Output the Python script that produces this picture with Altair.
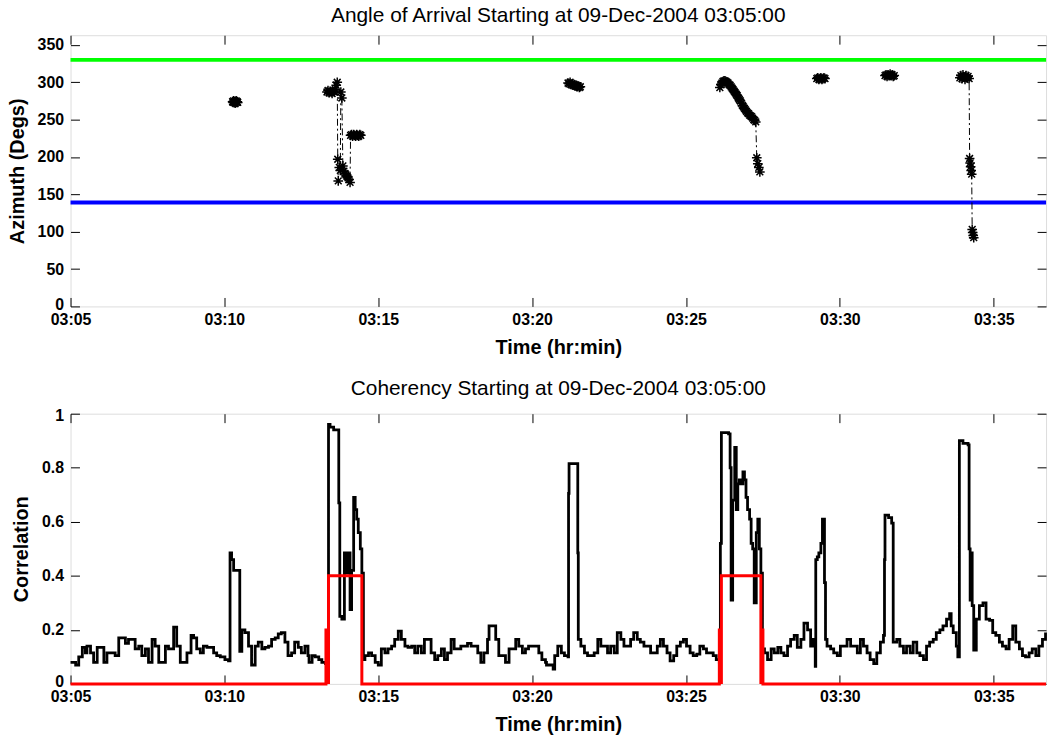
import altair as alt
import pandas as pd

FONT = "Liberation Sans"

# ---------------- axes / ticks ----------------
X_MAX_MIN = 31.7                       # minutes after 03:05:00 shown
X_TICKS_MIN = [0, 5, 10, 15, 20, 25, 30]
AZ_MAX = 363
AZ_TICKS = [0, 50, 100, 150, 200, 250, 300, 350]
COR_TICKS = [0, 0.2, 0.4, 0.6, 0.8, 1]

TITLE_TOP = "Angle of Arrival Starting at 09-Dec-2004 03:05:00"
TITLE_BOTTOM = "Coherency Starting at 09-Dec-2004 03:05:00"

# ---------------- reference azimuth lines ----------------
REF_AZ = [330, 139]
REF_COLOR = ["#00ff00", "#0000ff"]

# ---------------- azimuth detections: (seconds after 03:05:00, degrees) ----------------
CLUSTER_1 = [(316, 274), (317, 273), (318, 275), (319, 273), (320, 274), (321, 272),
             (322, 274), (323, 275), (324, 273), (325, 274), (326, 273)]
CLUSTER_2 = [(500, 287), (502, 289), (504, 286), (506, 288), (508, 287), (510, 285),
             (512, 288), (514, 287), (516, 290), (518, 296), (520, 300), (521, 197),
             (522, 168), (524, 186), (526, 182), (527, 287), (529, 279), (531, 188),
             (533, 181), (535, 178), (537, 176), (539, 174), (541, 172), (543, 170),
             (545, 166), (546, 229), (548, 230), (550, 228), (552, 230), (554, 229),
             (556, 228), (558, 230), (560, 229), (562, 228), (564, 230), (566, 229)]
CLUSTER_3 = [(970, 299), (972, 298), (974, 300), (976, 297), (978, 298), (980, 296),
             (982, 297), (984, 295), (986, 296), (988, 294), (990, 295), (992, 293),
             (994, 294)]
CLUSTER_4 = [(1266, 293), (1268, 297), (1270, 299), (1272, 301), (1274, 302), (1276, 302),
             (1278, 301), (1280, 300), (1282, 299), (1284, 297), (1286, 296), (1288, 294),
             (1290, 292), (1292, 290), (1294, 288), (1296, 286), (1298, 284), (1300, 282),
             (1302, 279), (1304, 277), (1306, 275), (1308, 272), (1310, 269), (1312, 267),
             (1314, 265), (1316, 263), (1318, 261), (1320, 259), (1322, 258), (1324, 256),
             (1326, 255), (1328, 254), (1330, 252), (1332, 250), (1334, 249), (1336, 247),
             (1338, 199), (1340, 191), (1342, 186), (1344, 180)]
CLUSTER_5 = [(1455, 305), (1457, 306), (1459, 304), (1461, 305), (1463, 306), (1465, 304),
             (1467, 305), (1469, 306), (1471, 305)]
CLUSTER_6 = [(1588, 309), (1590, 310), (1592, 308), (1594, 310), (1596, 309), (1598, 311),
             (1600, 309), (1602, 310), (1604, 308), (1606, 309)]
CLUSTER_7 = [(1734, 306), (1736, 309), (1738, 305), (1740, 310), (1742, 307), (1744, 304),
             (1746, 309), (1748, 306), (1750, 308), (1752, 305), (1753, 198), (1754, 192),
             (1755, 187), (1756, 182), (1757, 177), (1758, 103), (1759, 99), (1760, 95),
             (1761, 92)]
CLUSTERS = [CLUSTER_1, CLUSTER_2, CLUSTER_3, CLUSTER_4, CLUSTER_5, CLUSTER_6, CLUSTER_7]

# ---------------- coherency: (seconds after 03:05:00, correlation) ----------------
COH_A = [(0, 0.08), (10, 0.07), (16, 0.10), (23, 0.135), (29, 0.115), (32, 0.14), (39, 0.115),
         (45, 0.08), (52, 0.135), (58, 0.135), (65, 0.08), (71, 0.115), (78, 0.115), (87, 0.105),
         (94, 0.17), (100, 0.17), (107, 0.15), (113, 0.165), (120, 0.165), (126, 0.13),
         (133, 0.14), (139, 0.105), (146, 0.13), (152, 0.08), (159, 0.165), (165, 0.14),
         (172, 0.08), (178, 0.08), (185, 0.14), (191, 0.13), (201, 0.21), (207, 0.14),
         (214, 0.08), (220, 0.08), (227, 0.115), (235, 0.18), (240, 0.17), (246, 0.13),
         (253, 0.115), (259, 0.14), (266, 0.135), (272, 0.135), (279, 0.115), (285, 0.105),
         (292, 0.10), (301, 0.09), (308, 0.085), (311, 0.485), (314, 0.46), (318, 0.42),
         (324, 0.42), (329, 0.42), (330, 0.12), (334, 0.20), (340, 0.19), (347, 0.14),
         (353, 0.07), (360, 0.14), (366, 0.155), (373, 0.13), (379, 0.135), (386, 0.14),
         (392, 0.165), (399, 0.17), (405, 0.185), (411, 0.19), (418, 0.155), (424, 0.105),
         (431, 0.115), (437, 0.155), (444, 0.135), (450, 0.115), (457, 0.14), (463, 0.105)]
COH_B = [(465, 0.08), (471, 0.105), (477, 0.10), (484, 0.09), (490, 0.08), (497, 0.075),
         (502, 0.08), (503, 0.96), (506, 0.95), (513, 0.94), (521, 0.94), (523, 0.67),
         (525, 0.25), (529, 0.24), (534, 0.485), (539, 0.41), (542, 0.485), (545, 0.275),
         (548, 0.42), (552, 0.69), (555, 0.645), (558, 0.61), (561, 0.56), (565, 0.50),
         (568, 0.41), (571, 0.09), (574, 0.105), (581, 0.115), (587, 0.105), (594, 0.08),
         (600, 0.07), (606, 0.13), (613, 0.115), (619, 0.13), (626, 0.14), (632, 0.165),
         (639, 0.195), (645, 0.165), (652, 0.14), (658, 0.135), (665, 0.14), (671, 0.115),
         (677, 0.14), (684, 0.115), (690, 0.165), (697, 0.165), (703, 0.115), (710, 0.09),
         (716, 0.105), (723, 0.13), (729, 0.09), (735, 0.115), (742, 0.165), (748, 0.13),
         (755, 0.13), (761, 0.14), (768, 0.14), (774, 0.15), (781, 0.14), (787, 0.14),
         (794, 0.115), (800, 0.08), (806, 0.115), (813, 0.165), (816, 0.215), (823, 0.215),
         (829, 0.165), (835, 0.105), (842, 0.105), (848, 0.08), (855, 0.13), (861, 0.13),
         (868, 0.165), (874, 0.14), (881, 0.115), (887, 0.13), (893, 0.14), (900, 0.14),
         (906, 0.14), (913, 0.115), (919, 0.09), (926, 0.08)]
COH_C = [(928, 0.07), (934, 0.07), (941, 0.055), (944, 0.105), (950, 0.14), (957, 0.115),
         (963, 0.105), (970, 0.10), (971, 0.705), (972, 0.815), (979, 0.815), (987, 0.815),
         (989, 0.485), (990, 0.165), (995, 0.14), (1002, 0.115), (1008, 0.105), (1015, 0.105),
         (1021, 0.115), (1028, 0.165), (1034, 0.14), (1040, 0.14), (1047, 0.115), (1053, 0.14),
         (1060, 0.115), (1066, 0.19), (1073, 0.165), (1079, 0.14), (1086, 0.14), (1092, 0.165),
         (1098, 0.19), (1105, 0.165), (1111, 0.155), (1118, 0.14), (1124, 0.14), (1131, 0.115),
         (1137, 0.115), (1144, 0.14), (1150, 0.165), (1156, 0.14), (1163, 0.115), (1169, 0.085),
         (1176, 0.105), (1182, 0.14), (1189, 0.155), (1195, 0.165), (1201, 0.14), (1208, 0.115),
         (1214, 0.105), (1221, 0.11), (1227, 0.14), (1234, 0.13), (1240, 0.115), (1247, 0.115),
         (1253, 0.105), (1259, 0.09), (1265, 0.08), (1267, 0.52), (1269, 0.93), (1275, 0.93),
         (1283, 0.925), (1286, 0.80), (1288, 0.31), (1291, 0.68), (1295, 0.875), (1298, 0.645),
         (1301, 0.74), (1304, 0.755), (1307, 0.74), (1311, 0.785), (1314, 0.755), (1317, 0.69),
         (1320, 0.645), (1324, 0.61), (1327, 0.52), (1330, 0.50), (1333, 0.30), (1337, 0.56),
         (1340, 0.61), (1343, 0.50), (1346, 0.41), (1349, 0.13), (1353, 0.115), (1359, 0.09),
         (1366, 0.13), (1372, 0.115), (1379, 0.135), (1385, 0.115), (1391, 0.105), (1398, 0.14),
         (1404, 0.165), (1411, 0.18)]
COH_D = [(1417, 0.135), (1424, 0.165), (1430, 0.225), (1437, 0.20), (1443, 0.14), (1448, 0.165),
         (1452, 0.065), (1453, 0.46), (1456, 0.47), (1459, 0.485), (1463, 0.52), (1466, 0.61),
         (1469, 0.61), (1470, 0.375), (1472, 0.165), (1475, 0.14), (1482, 0.13), (1488, 0.115),
         (1495, 0.105), (1501, 0.14), (1508, 0.14), (1514, 0.165), (1521, 0.14), (1527, 0.14),
         (1534, 0.115), (1540, 0.165), (1546, 0.14), (1553, 0.115), (1559, 0.09), (1566, 0.075),
         (1572, 0.115), (1579, 0.155), (1585, 0.18), (1587, 0.46), (1588, 0.625), (1595, 0.615),
         (1601, 0.595), (1604, 0.155), (1611, 0.165), (1617, 0.14), (1624, 0.115), (1630, 0.14),
         (1637, 0.115), (1643, 0.155), (1650, 0.115), (1656, 0.105), (1663, 0.09), (1669, 0.14),
         (1675, 0.155), (1682, 0.165), (1688, 0.19), (1695, 0.20), (1701, 0.215), (1708, 0.24),
         (1714, 0.26), (1717, 0.215), (1721, 0.19), (1727, 0.14), (1730, 0.10), (1733, 0.90),
         (1740, 0.89), (1750, 0.885), (1752, 0.50), (1754, 0.31), (1756, 0.485), (1758, 0.29),
         (1761, 0.125), (1766, 0.24), (1772, 0.29), (1779, 0.30), (1785, 0.24), (1792, 0.235),
         (1798, 0.19), (1804, 0.18), (1811, 0.155), (1817, 0.14), (1824, 0.13), (1830, 0.165),
         (1837, 0.215), (1843, 0.155), (1850, 0.13), (1856, 0.105), (1862, 0.10), (1869, 0.115),
         (1875, 0.13), (1882, 0.105), (1888, 0.14), (1895, 0.165), (1901, 0.19)]

# ---------------- detection window (red) ----------------
DET_TIME_S = [0, 498, 498, 503, 503, 503, 568, 568, 1265, 1265, 1269, 1269, 1269,
              1346, 1346, 1346, 1350, 1350, 1902]
DET_VALUE = [0, 0, 0.2, 0.2, 0, 0.4, 0.4, 0, 0, 0.2, 0.2, 0, 0.4,
             0.4, 0, 0.2, 0.2, 0, 0]

# ---------------- data frames ----------------
rows = []
for k, cl in enumerate(CLUSTERS):
    for t, a in cl:
        rows.append({"min": t / 60.0, "az": a, "seg": k})
az_df = pd.DataFrame(rows)
ref_df = pd.DataFrame({"az": REF_AZ, "c": REF_COLOR})
coh = COH_A + COH_B + COH_C + COH_D
coh_df = pd.DataFrame({"min": [t / 60.0 for t, _ in coh], "cor": [v for _, v in coh]})
det_df = pd.DataFrame({"min": [t / 60.0 for t in DET_TIME_S], "cor": DET_VALUE,
                       "i": list(range(len(DET_VALUE)))})

LABEL_EXPR = "'03:' + (datum.value + 5 < 10 ? '0' : '') + (datum.value + 5)"
TICK = 9
LABEL_SIZE = 16


def bottom_axis():
    return alt.Axis(orient="bottom", values=X_TICKS_MIN, labelExpr=LABEL_EXPR, offset=-TICK,
                    tickSize=TICK, tickColor="black", tickWidth=1, domain=False, grid=False,
                    labelFlush=False, labelPadding=5, labelFont=FONT, labelFontSize=LABEL_SIZE,
                    labelFontWeight="bold", labelColor="black", title="Time (hr:min)",
                    titleFont=FONT, titleFontSize=20, titleFontWeight="bold",
                    titleColor="black", titlePadding=10)


def left_axis(title, values, fmt):
    return alt.Axis(orient="left", values=values, format=fmt, offset=-TICK, tickSize=TICK,
                    tickColor="black", tickWidth=1, domain=False, grid=False, labelPadding=7,
                    labelFlush=True, labelFlushOffset=6,
                    labelFont=FONT, labelFontSize=LABEL_SIZE, labelFontWeight="bold",
                    labelColor="black", title=title, titleFont=FONT, titleFontSize=20,
                    titleFontWeight="bold", titleColor="black", titlePadding=10)


def top_axis():
    return alt.Axis(orient="top", values=X_TICKS_MIN, offset=-TICK, tickSize=TICK,
                    tickColor="black", tickWidth=1, labels=False, domain=False, grid=False,
                    title=None)


def right_axis(values):
    return alt.Axis(orient="right", values=values, offset=-TICK, tickSize=TICK,
                    tickColor="black", tickWidth=1, labels=False, domain=False, grid=False,
                    title=None)


def title(text):
    return alt.TitleParams(text=text, font=FONT, fontSize=21, fontWeight="normal",
                           color="black", anchor="middle", frame="group", offset=9)


xs = alt.Scale(domain=[0, X_MAX_MIN], nice=False, zero=False)
ys_az = alt.Scale(domain=[0, AZ_MAX], nice=False)
ys_cor = alt.Scale(domain=[0, 1], nice=False)

STAR = "M-1,0L1,0M0,-1L0,1M-0.7,-0.7L0.7,0.7M-0.7,0.7L0.7,-0.7"

refs = alt.Chart(ref_df).mark_rule(strokeWidth=4).encode(
    y=alt.Y("az:Q", scale=ys_az, axis=None),
    color=alt.Color("c:N", scale=None),
)
az_lines = alt.Chart(az_df).mark_line(color="black", strokeWidth=1,
                                      strokeDash=[7, 3, 2, 3]).encode(
    x=alt.X("min:Q", scale=xs, axis=bottom_axis()),
    y=alt.Y("az:Q", scale=ys_az, axis=left_axis("Azimuth (Degs)", AZ_TICKS, "d")),
    detail="seg:N",
)
az_pts = alt.Chart(az_df).mark_point(shape=STAR, filled=False, color="black", size=95,
                                     strokeWidth=1.5, opacity=1).encode(
    x=alt.X("min:Q", scale=xs, axis=top_axis()),
    y=alt.Y("az:Q", scale=ys_az, axis=right_axis(AZ_TICKS)),
)
top = alt.layer(refs, az_lines, az_pts).resolve_axis(
    x="independent", y="independent").properties(width=982, height=273, title=title(TITLE_TOP))

coh_line = alt.Chart(coh_df).mark_line(color="black", strokeWidth=2.8,
                                       interpolate="step-after").encode(
    x=alt.X("min:Q", scale=xs, axis=bottom_axis()),
    y=alt.Y("cor:Q", scale=ys_cor, axis=left_axis("Correlation", COR_TICKS, "~g")),
)
det_line = alt.Chart(det_df).mark_line(color="#ff0000", strokeWidth=3, clip=False).encode(
    x=alt.X("min:Q", scale=xs, axis=top_axis()),
    y=alt.Y("cor:Q", scale=ys_cor, axis=right_axis(COR_TICKS)),
    order="i:Q",
)
bottom = alt.layer(coh_line, det_line).resolve_axis(
    x="independent", y="independent").properties(width=982, height=272,
                                                  title=title(TITLE_BOTTOM))

chart = alt.vconcat(top, bottom, spacing=108, bounds="flush").properties(
    padding={"left": 6, "top": 2, "right": 0, "bottom": 0},
    background="white",
).configure_view(stroke="black", strokeWidth=1).configure(font=FONT)

chart.save("out.html", embed_options={"renderer": "svg", "actions": False})
